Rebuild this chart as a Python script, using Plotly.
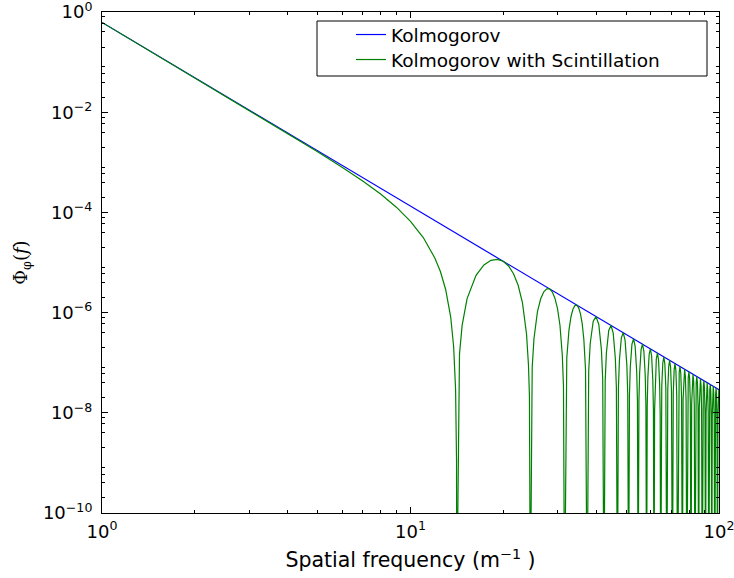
import plotly.graph_objects as go

# ---- data ----
kolmogorov_f = [1, 100]
kolmogorov_phi = [0.62, 2.88e-8]

scint_f = [
    1, 4, 5, 6, 7, 8, 9, 10, 11, 12, 12.5, 13, 13.5, 13.8, 14.0, 14.1, 14.124,
    14.416, 14.701, 15.256, 16.310, 17.299, 18.235, 19.125, 19.975, 20.791, 21.575,
    22.333, 23.065, 23.775, 24.122, 24.294, 24.464,
    24.802, 25.135, 25.788, 26.424, 27.046, 27.654, 28.249, 28.831, 29.402, 29.962,
    30.512, 31.052, 31.319, 31.583,
    32.105, 32.619, 33.125, 33.623, 34.114, 34.598, 35.075, 35.546, 36.010, 36.469,
    36.922, 37.370,
    37.812, 38.250, 39.109, 39.950, 40.774, 41.581, 41.979, 42.374,
    42.764, 43.151, 43.915, 44.666, 45.404, 46.130, 46.489, 46.846,
    47.199, 47.550, 48.244, 48.929, 49.603, 50.269, 50.599, 50.927,
    51.252, 51.575, 52.216, 52.849, 53.474, 54.093, 54.399, 54.704,
    55.007, 55.308, 55.906, 56.498, 57.084, 57.663, 57.951, 58.237,
    58.521, 58.805, 59.368, 59.925, 60.477, 61.025, 61.297, 61.567,
    61.836, 62.104, 62.638, 63.166, 63.691, 64.211, 64.469, 64.726,
    65.238, 65.746, 66.250, 66.750, 67.246, 67.738,
    68.227, 68.713, 69.195, 69.674, 70.149, 70.622,
    71.091, 71.558, 72.021, 72.481, 72.938, 73.393,
    73.845, 74.293, 74.740, 75.183, 75.624, 76.063,
    76.498, 76.932, 77.363, 77.791, 78.218, 78.642,
    79.063, 79.483, 79.900, 80.315, 80.728, 81.139,
    81.548, 81.954, 82.359, 82.762, 83.162, 83.561,
    83.958, 84.353, 84.746, 85.138, 85.527, 85.916,
    86.302, 86.686, 87.069, 87.450, 87.830, 88.207,
    88.583, 88.958, 89.331, 89.702, 90.072, 90.441,
    90.808, 91.173, 91.537, 91.899, 92.260, 92.620,
    92.978, 93.335, 93.691, 94.045, 94.398, 94.750,
    95.100, 95.449, 95.797, 96.143, 96.488, 96.832,
    97.175, 97.517, 97.857, 98.196, 98.534, 98.871,
    99.207, 99.541, 99.875, 100,
]

scint_phi = [
    0.62, 3.78e-3, 1.63e-3, 8.01e-4, 4.24e-4, 2.32e-4, 1.27e-4, 6.65e-5, 3.15e-5, 1.22e-5,
    6.59e-6, 2.89e-6, 8.15e-7, 2.08e-7, 2.96e-8, 1.12e-9, 1e-12,
    1.49e-7, 5.54e-7, 1.90e-6, 5.56e-6, 8.95e-6, 1.107e-5, 1.156e-5, 1.057e-5, 8.51e-6, 5.97e-6,
    3.51e-6, 1.56e-6, 3.74e-7, 9.01e-8, 2.2e-8, 1e-12,
    8.14e-8, 3.05e-7, 1.035e-6, 1.89e-6, 2.61e-6, 2.99e-6, 2.97e-6, 2.57e-6, 1.92e-6, 1.195e-6,
    5.59e-7, 1.40e-7, 3.46e-8, 1e-12,
    1.24e-7, 4.37e-7, 8.27e-7, 1.174e-6, 1.385e-6, 1.41e-6, 1.25e-6, 9.58e-7, 6.09e-7, 2.91e-7,
    7.44e-8, 1e-12,
    6.82e-8, 2.44e-7, 6.75e-7, 8.32e-7, 5.79e-7, 1.80e-7, 4.65e-8, 1e-12,
    4.34e-8, 1.57e-7, 4.41e-7, 5.53e-7, 3.90e-7, 1.23e-7, 3.20e-8, 1e-12,
    3.02e-8, 1.10e-7, 3.13e-7, 3.96e-7, 2.82e-7, 8.96e-8, 2.34e-8, 1e-12,
    2.24e-8, 8.15e-8, 2.34e-7, 2.98e-7, 2.14e-7, 6.85e-8, 1.80e-8, 1e-12,
    1.73e-8, 6.31e-8, 1.82e-7, 2.34e-7, 1.69e-7, 5.42e-8, 1.43e-8, 1e-12,
    1.37e-8, 5.04e-8, 1.46e-7, 1.88e-7, 1.36e-7, 4.40e-8, 1.16e-8, 1e-12,
    1.12e-8, 4.13e-8, 1.20e-7, 1.55e-7, 1.13e-7, 3.65e-8, 9.64e-9, 1e-12,
    3.44e-8, 1.00e-7, 1.30e-7, 9.50e-8, 3.08e-8, 1e-12,
    2.92e-8, 8.54e-8, 1.11e-7, 8.12e-8, 2.64e-8, 1e-12,
    2.51e-8, 7.36e-8, 9.59e-8, 7.02e-8, 2.29e-8, 1e-12,
    2.19e-8, 6.42e-8, 8.37e-8, 6.14e-8, 2.00e-8, 1e-12,
    1.92e-8, 5.65e-8, 7.38e-8, 5.42e-8, 1.77e-8, 1e-12,
    1.70e-8, 5.01e-8, 6.55e-8, 4.82e-8, 1.58e-8, 1e-12,
    1.52e-8, 4.48e-8, 5.86e-8, 4.32e-8, 1.41e-8, 1e-12,
    1.37e-8, 4.03e-8, 5.28e-8, 3.89e-8, 1.28e-8, 1e-12,
    1.23e-8, 3.64e-8, 4.78e-8, 3.53e-8, 1.16e-8, 1e-12,
    1.12e-8, 3.31e-8, 4.35e-8, 3.21e-8, 1.06e-8, 1e-12,
    1.02e-8, 3.03e-8, 3.98e-8, 2.94e-8, 9.67e-9, 1e-12,
    9.40e-9, 2.78e-8, 3.66e-8, 2.70e-8, 8.89e-9, 1e-12,
    8.65e-9, 2.56e-8, 3.37e-8, 2.49e-8, 8.20e-9, 1e-12,
    7.99e-9, 2.37e-8, 3.12e-8, 2.31e-8, 7.60e-9, 1e-12,
    7.41e-9, 2.20e-8, 2.89e-8, 2.77e-8,
]

series_names = ["Kolmogorov", "Kolmogorov with Scintillation"]

x_tick_vals = [1, 10, 100]
x_tick_text = ["10<sup>0</sup>", "10<sup>1</sup>", "10<sup>2</sup>"]
x_minor_vals = [2, 3, 4, 5, 6, 7, 8, 9, 20, 30, 40, 50, 60, 70, 80, 90]

y_tick_vals = [1e-10, 1e-8, 1e-6, 1e-4, 1e-2, 1]
y_tick_text = ["10<sup>−10</sup>", "10<sup>−8</sup>", "10<sup>−6</sup>",
               "10<sup>−4</sup>", "10<sup>−2</sup>", "10<sup>0</sup>"]
y_minor_vals = [m * 10.0 ** d for d in range(-10, 0) for m in (2, 4, 6, 8)]

x_title = "Spatial frequency (m<sup>−1</sup> )"
y_title = "Φ<sub>φ</sub>(<i>f</i>)"

# ---- figure ----
W, H = 734, 578
ML, MR, MT, MB = 102, 15, 12, 65
pw, ph = W - ML - MR, H - MT - MB

fig = go.Figure()
fig.add_trace(go.Scatter(x=kolmogorov_f, y=kolmogorov_phi, mode="lines",
                         name=series_names[0], legend="legend",
                         line=dict(color="#0000ff", width=1.2)))
fig.add_trace(go.Scatter(x=scint_f, y=scint_phi, mode="lines",
                         name=series_names[1], legend="legend2",
                         line=dict(color="#008000", width=1.2)))

font_main = "DejaVu Sans"

axis_common = dict(
    showline=True, linecolor="black", linewidth=1, mirror="allticks",
    ticks="inside", ticklen=6, tickwidth=1, tickcolor="black",
    showgrid=False, zeroline=False, automargin=False,
    ticklabeloverflow="allow",
    tickfont=dict(family=font_main, size=18, color="black"),
)

fig.update_xaxes(
    type="log", range=[0, 2], tickmode="array",
    tickvals=x_tick_vals, ticktext=x_tick_text,
    minor=dict(tickmode="array", tickvals=x_minor_vals, ticks="inside",
               ticklen=3, tickwidth=1, tickcolor="black", showgrid=False),
    title=dict(text=x_title, font=dict(family=font_main, size=20.5, color="black"),
               standoff=12),
    ticklabelstandoff=2,
    **axis_common,
)
fig.update_yaxes(
    type="log", range=[-10, 0], tickmode="array",
    tickvals=y_tick_vals, ticktext=y_tick_text,
    minor=dict(tickmode="array", tickvals=y_minor_vals, ticks="inside",
               ticklen=3, tickwidth=1, tickcolor="black", showgrid=False),
    title=dict(text=y_title, font=dict(family="DejaVu Serif", size=18, color="black"),
               standoff=10),
    ticklabelstandoff=5,
    **axis_common,
)

def px_x(p):
    return (p - ML) / pw

def px_y(p):
    return (MT + ph - p) / ph

fig.add_shape(type="rect", xref="paper", yref="paper",
              x0=px_x(317), x1=px_x(707), y0=px_y(76), y1=px_y(21),
              line=dict(color="black", width=1), fillcolor="rgba(0,0,0,0)",
              layer="above")

legend_style = dict(xanchor="left", yanchor="top", bgcolor="rgba(0,0,0,0)",
                    borderwidth=0,
                    font=dict(family=font_main, size=18.5, color="black"))

fig.update_layout(
    template="none",
    width=W, height=H, autosize=False,
    margin=dict(l=ML, r=MR, t=MT, b=MB, pad=0),
    paper_bgcolor="white", plot_bgcolor="white",
    showlegend=True,
    legend=dict(x=px_x(351), y=px_y(16), **legend_style),
    legend2=dict(x=px_x(351), y=px_y(41), **legend_style),
)

fig.write_html("out.html")
